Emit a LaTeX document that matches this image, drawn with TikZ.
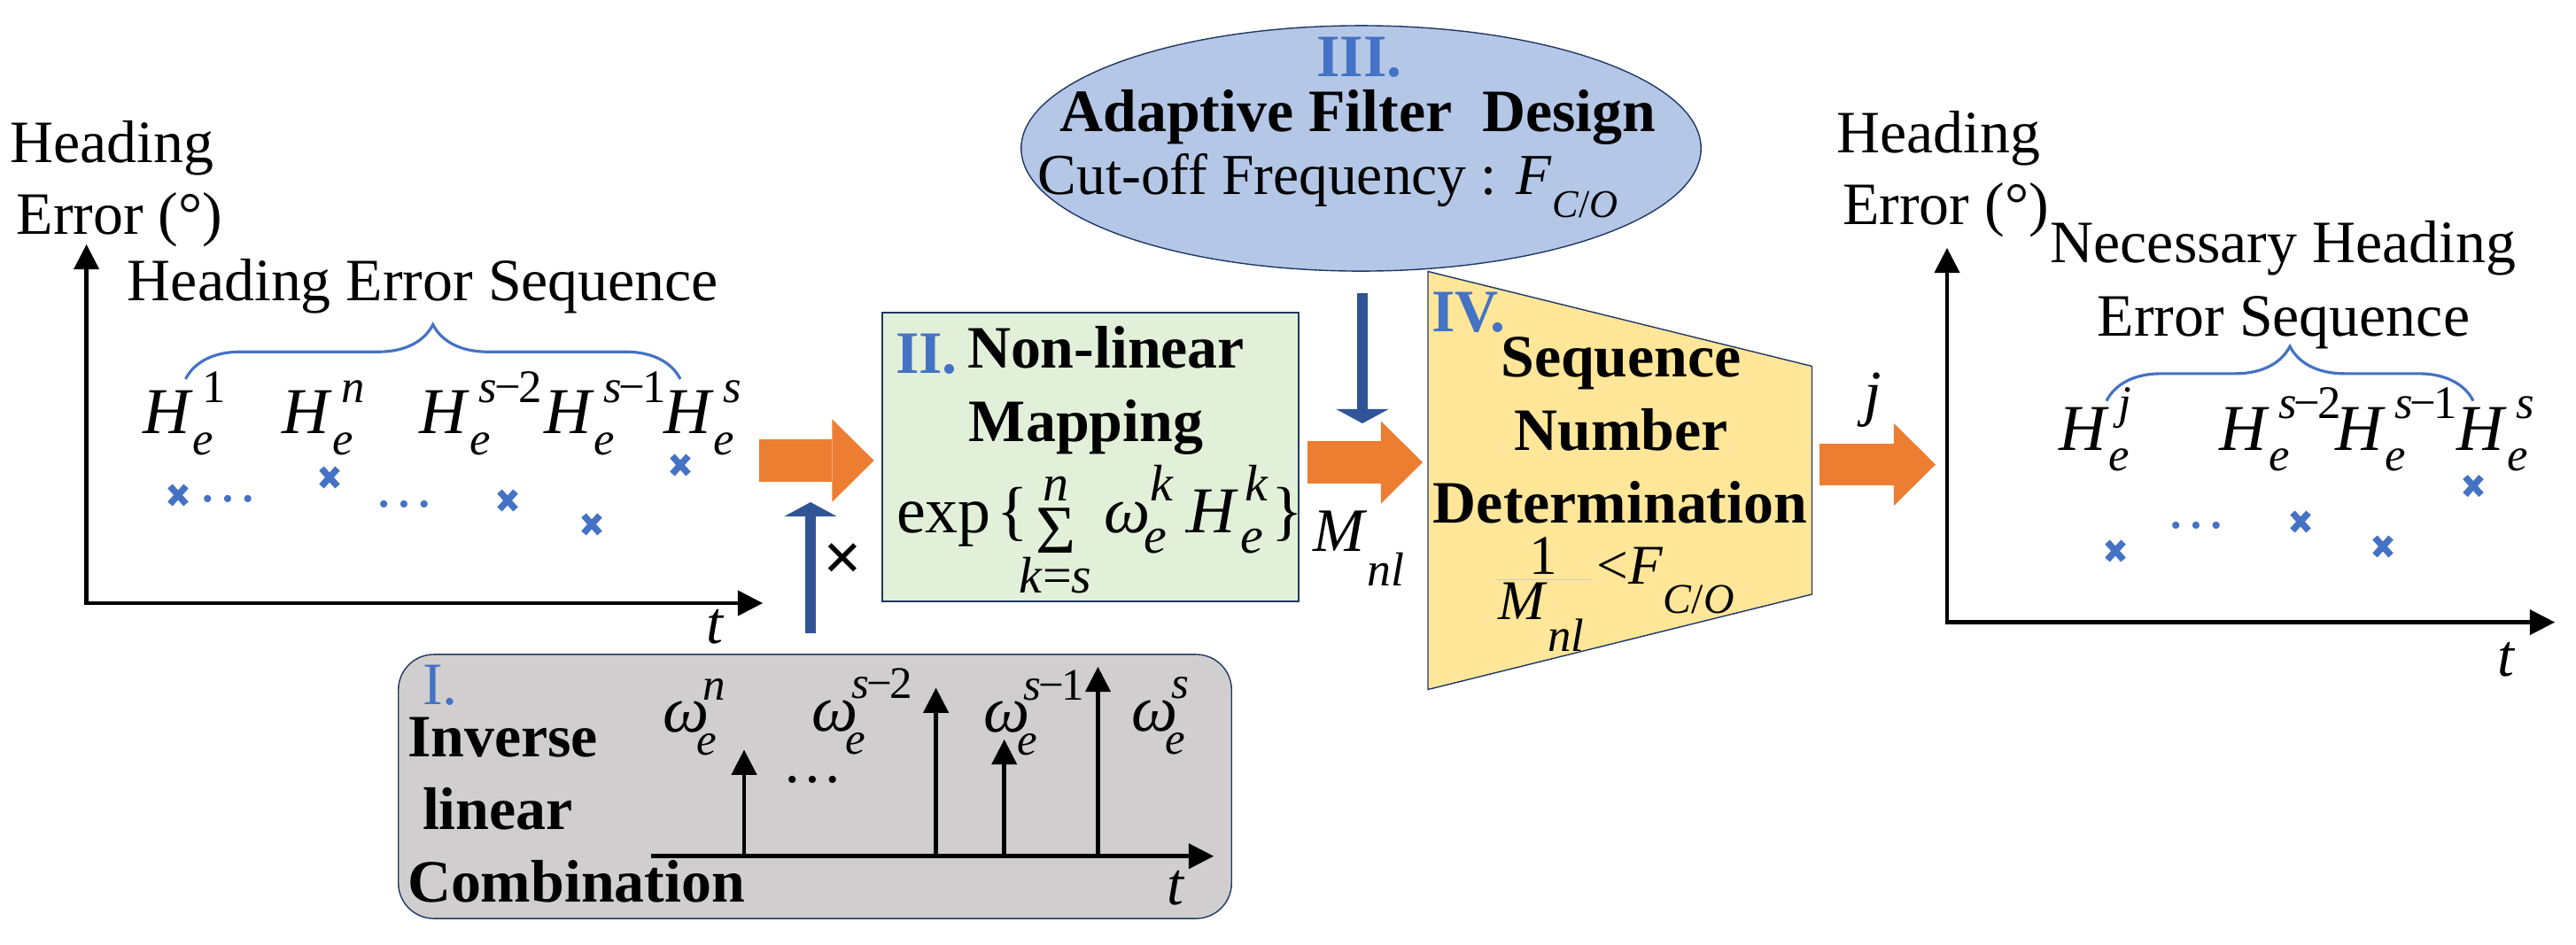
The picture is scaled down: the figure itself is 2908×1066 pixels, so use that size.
\documentclass[tikz,border=0pt]{standalone}
\usepackage{fontspec}
\setmainfont{Liberation Serif}
\usetikzlibrary{arrows.meta,shapes.geometric,decorations.pathreplacing}
\definecolor{myorange}{HTML}{ED7D31}
\definecolor{myblue}{HTML}{4472C4}
\definecolor{darkblue}{HTML}{2F5597}
\definecolor{mygreen}{HTML}{E2F0D9}
\definecolor{ellblue}{HTML}{B4C7E7}
\definecolor{myyellow}{HTML}{FFE699}
\definecolor{mygray}{HTML}{D0CECE}
\definecolor{boxline}{HTML}{203864}
\newcommand\myfA{\fontsize{19.3}{23}\selectfont}
\newcommand\myfM{\fontsize{21}{25}\selectfont}
\newcommand\myfS{\fontsize{15}{16}\selectfont}
\newcommand\myfT{\fontsize{14.5}{15}\selectfont}
\newcommand\myfU{\fontsize{16.5}{17}\selectfont}
% base, size, sub, subkern, subdrop, sup, supkern, supraise
\newcommand\SSm[8]{#1\rlap{\kern#4\raisebox{-#5}{#2#3}}\kern#7\raisebox{#8}{#2#6}}
\newcommand\HG[1]{\SSm{\textit{H}}{\myfS}{\textit{e}}{0pt}{6.7pt}{#1}{3pt}{10pt}}
\newcommand\WG[1]{\SSm{\textit{ω}}{\myfT}{\textit{e}}{-4pt}{7.4pt}{#1}{-2pt}{10.4pt}}
\newcommand\mn{\kern-0.8pt−\kern-0.8pt}
\newcommand\SUMB{\ooalign{\hfil\raisebox{-6.8pt}{\fontsize{22}{22}\selectfont Σ}\hfil\cr
  \hfil\raisebox{10pt}{\myfU\textit{n}}\hfil\cr
  \hfil\raisebox{-19.6pt}{\myfU\textit{k}=\textit{s}}\hfil\cr}}
\begin{document}
\begin{tikzpicture}[x=0.01cm,y=-0.01cm,
  txt/.style={inner sep=0pt,outer sep=0pt,font=\myfA},
  bld/.style={inner sep=0pt,outer sep=0pt,font=\myfA\bfseries},
  mth/.style={inner sep=0pt,outer sep=0pt,font=\myfM},
  axes/.style={line width=1.4pt,{Triangle[length=8pt,width=8.3pt,line width=0pt]}-{Triangle[length=8pt,width=8.3pt,line width=0pt]}},
  stem/.style={line width=1.4pt,-{Triangle[length=8pt,width=8.3pt,line width=0pt]}},
  fat/.style={draw=myorange,line width=13.4pt,-{Triangle[length=13.4pt,width=26.5pt,line width=0pt]}},
  barrow/.style={draw=darkblue,line width=3.4pt,-{Triangle[length=4.6pt,width=17pt,line width=0pt]}},
  xm/.style={draw=myblue,line width=2.1pt},
  brc/.style={draw=myblue,line width=0.9pt,decorate,decoration={brace,amplitude=17.5pt}},
]
\useasboundingbox (0,0) rectangle (2908,1066);
\fill[white] (0,0) rectangle (2908,1066);

% ---------- boxes ----------
\node[ellipse,draw=boxline,line width=0.4pt,fill=ellblue,minimum width=7.67cm,minimum height=2.77cm,inner sep=0pt] (AFD) at (1536.5,167.5) {};
\node[draw=boxline,line width=0.4pt,fill=mygreen,minimum width=4.70cm,minimum height=3.26cm,inner sep=0pt] (NLM) at (1231,516) {};
\coordinate (T1) at (1612,306.5);
\coordinate (T2) at (2045.5,413.5);
\coordinate (T3) at (2045.5,671);
\coordinate (T4) at (1612,778.5);
\filldraw[fill=myyellow,draw=boxline,line width=0.4pt] (T1) -- (T2) -- (T3) -- (T4) -- cycle;
\node[draw=boxline,line width=0.4pt,fill=mygray,rounded corners=0.4cm,minimum width=9.40cm,minimum height=2.98cm,inner sep=0pt] (ILC) at (920,888) {};

% ---------- left graph ----------
\coordinate (LO) at (97.6,681);
\coordinate (LY) at (97.6,276);
\coordinate (LX) at (861,681);
\draw[axes] (LY) -- (LO) -- (LX);
\node[txt,anchor=base] (LH1) at (126,183) {Heading};
\node[txt,anchor=base] (LH2) at (135,264) {Error (°)};
\node[txt,anchor=base] (LHS) at (477.5,339) {Heading Error Sequence};
\draw[brc] (209.5,428) -- (768,428);
\node[mth,anchor=base west] (L1) at (161,489.5) {\HG{1}};
\node[mth,anchor=base west] (L2) at (318.6,489.5) {\HG{\textit{n}}};
\node[mth,anchor=base west] (L3) at (473.6,489.5) {\HG{\textit{s}\mn2}};
\node[mth,anchor=base west] (L4) at (614,489.5) {\HG{\textit{s}\mn1}};
\node[mth,anchor=base west] (L5) at (749,489.5) {\HG{\textit{s}}};
\foreach \p in {(201,559),(372,539),(573,565),(668,592),(768,525)}
  \draw[xm] \p +(-9,-10) -- +(9,10) +(-9,10) -- +(9,-10);
\node[txt,text=myblue,anchor=base] (LD1) at (257,566) {…};
\node[txt,text=myblue,anchor=base] (LD2) at (456,572.5) {…};
\node[txt,anchor=base] (LT) at (808,726.7) {\textit{t}};

% ---------- orange arrows ----------
\coordinate (A1s) at (857,520);
\coordinate (A1e) at (986.6,520);
\coordinate (A2s) at (1476,522);
\coordinate (A2e) at (1606,522);
\coordinate (A3s) at (2054,524.5);
\coordinate (A3e) at (2185,524.5);
\draw[fat] (A1s) -- (A1e);
\draw[fat] (A2s) -- (A2e);
\draw[fat] (A3s) -- (A3e);

% ---------- blue arrows ----------
\coordinate (B1s) at (915,715);
\coordinate (B1e) at (915,567);
\coordinate (B2s) at (1538,331);
\coordinate (B2e) at (1538,478);
\draw[barrow] (B1s) -- (B1e);
\draw[barrow] (B2s) -- (B2e);
\node[inner sep=0pt,font=\fontsize{22}{22}\selectfont\bfseries] (TMS) at (952,635) {×};

% ---------- II. non-linear mapping ----------
\node[bld,text=myblue,anchor=base west] (N2) at (1011,421.5) {II.};
\node[bld,anchor=base west] (NL1) at (1092,415) {Non-linear};
\node[bld,anchor=base] (NL2) at (1226,498) {Mapping};
\node[mth,anchor=base west] (NLF) at (1012,601) {exp\kern2pt\{\kern-3pt\SUMB\kern4pt\SSm{\textit{ω}}{\myfU}{\textit{e}}{-2pt}{6.8pt}{\textit{k}}{0pt}{10.2pt}\kern3pt{\fontsize{9}{9}\selectfont.}\kern-0.5pt\SSm{\textit{H}}{\myfU}{\textit{e}}{0.5pt}{6.8pt}{\textit{k}}{2pt}{10.2pt}\kern1pt\}};
\node[inner sep=0pt,anchor=base west,font=\fontsize{19.8}{22}\selectfont] (MNL) at (1481.7,622.7) {\textit{M}\raisebox{-11.1pt}{\fontsize{15.3}{16}\selectfont\textit{nl}}};

% ---------- III. adaptive filter ----------
\node[bld,text=myblue,anchor=base] (N3) at (1534.5,86) {III.};
\node[bld,anchor=base] (AF1) at (1533,148) {Adaptive Filter\ \ Design};
\node[inner sep=0pt,anchor=base west,font=\fontsize{18.6}{22}\selectfont] (AF2) at (1171,219.6) {Cut-off Frequency : \textit{F}\raisebox{-7.4pt}{\fontsize{12.6}{13}\selectfont\textit{C}/\textit{O}}};

% ---------- IV. sequence number determination ----------
\node[bld,text=myblue,anchor=base west] (N4) at (1616,374.7) {IV.};
\node[bld,anchor=base] (SN1) at (1830,425.6) {Sequence};
\node[bld,anchor=base] (SN2) at (1830,508) {Number};
\node[bld,anchor=base] (SN3) at (1829,590.5) {Determination};
\node[inner sep=0pt,anchor=base,font=\fontsize{18}{20}\selectfont] (FR1) at (1742,648) {1};
\draw[black!20,line width=0.3pt] (1688,654.7) -- (1798,654.7);
\node[inner sep=0pt,anchor=base west,font=\fontsize{18}{20}\selectfont] (FRM) at (1691,699) {\textit{M}\raisebox{-10.5pt}{\fontsize{15}{16}\selectfont\textit{nl}}};
\node[inner sep=0pt,anchor=base west,font=\fontsize{18}{20}\selectfont] (FRF) at (1802,659) {<\textit{F}\raisebox{-9.4pt}{\fontsize{13.6}{14}\selectfont\textit{C}/\textit{O}}};
\node[inner sep=0pt,anchor=base,font=\fontsize{20}{22}\selectfont] (JJ) at (2114,467) {\textit{j}};

% ---------- I. inverse linear combination ----------
\node[txt,text=myblue,anchor=base west] (N1) at (477,795) {I.};
\node[bld,anchor=base west] (IL1) at (460,854) {Inverse};
\node[bld,anchor=base west] (IL2) at (477,936) {linear};
\node[bld,anchor=base west] (IL3) at (460,1018) {Combination};
\coordinate (GO) at (735,966.7);
\coordinate (GX) at (1370,966.7);
\draw[stem] (GO) -- (GX);
\draw[stem] (840,966.7) -- (840,846.7);
\draw[stem] (1056.6,966.7) -- (1056.6,776.7);
\draw[stem] (1133.7,966.7) -- (1133.7,835);
\draw[stem] (1239.5,966.7) -- (1239.5,753);
\node[mth,anchor=base west] (W1) at (748,826.7) {\WG{\textit{n}}};
\node[mth,anchor=base west] (W2) at (916,825) {\WG{\textit{s}\mn2}};
\node[mth,anchor=base west] (W3) at (1110,826.7) {\WG{\textit{s}\mn1}};
\node[mth,anchor=base west] (W4) at (1277.7,825) {\WG{\textit{s}}};
\node[txt,anchor=base] (GD) at (917.5,883.5) {…};
\node[txt,anchor=base] (GT) at (1328,1021.7) {\textit{t}};

% ---------- right graph ----------
\coordinate (RO) at (2198,702.6);
\coordinate (RY) at (2198,280);
\coordinate (RX) at (2884,702.6);
\draw[axes] (RY) -- (RO) -- (RX);
\node[txt,anchor=base] (RH1) at (2188,172.7) {Heading};
\node[txt,anchor=base] (RH2) at (2196.5,253) {Error (°)};
\node[txt,anchor=base] (RS1) at (2577.5,296.4) {Necessary Heading};
\node[txt,anchor=base] (RS2) at (2578,379) {Error Sequence};
\draw[brc] (2378,452.6) -- (2792,452.6);
\node[mth,anchor=base west] (R1) at (2324,508) {\HG{\textit{j}}};
\node[mth,anchor=base west] (R2) at (2505,508) {\HG{\textit{s}\mn2}};
\node[mth,anchor=base west] (R3) at (2636,508) {\HG{\textit{s}\mn1}};
\node[mth,anchor=base west] (R4) at (2773.6,508) {\HG{\textit{s}}};
\foreach \p in {(2388,622),(2597,589),(2690,617),(2792,548.6)}
  \draw[xm] \p +(-9,-10) -- +(9,10) +(-9,10) -- +(9,-10);
\node[txt,text=myblue,anchor=base] (RD) at (2479,596.5) {…};
\node[txt,anchor=base] (RT) at (2830,763) {\textit{t}};
\end{tikzpicture}
\end{document}
